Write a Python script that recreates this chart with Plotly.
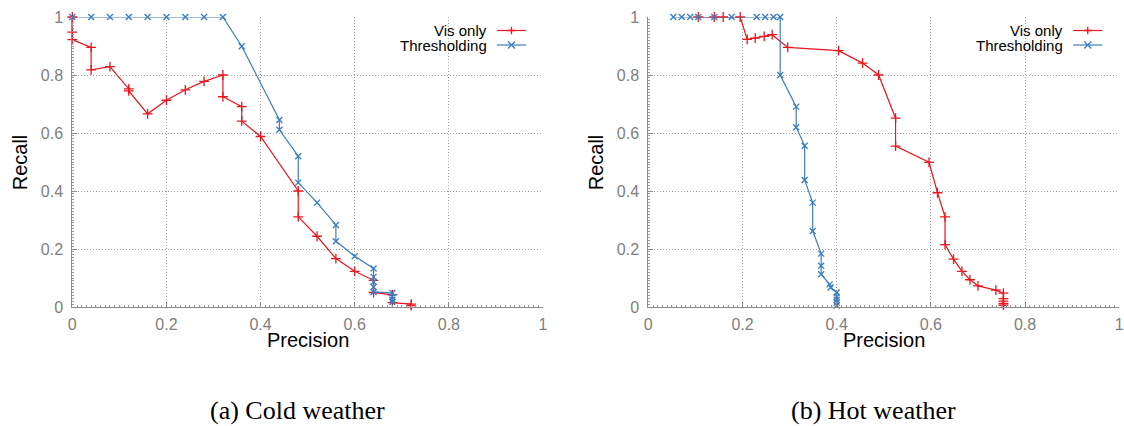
import plotly.graph_objects as go

# ---------------- data ----------------
cold_vis_x = [0, 0, 0, 0.04, 0.04, 0.08, 0.12, 0.12, 0.16, 0.2, 0.24, 0.28, 0.32, 0.32,
              0.36, 0.36, 0.4, 0.48, 0.48, 0.52, 0.56, 0.6, 0.64, 0.64, 0.68, 0.68, 0.72, 0.72]
cold_vis_y = [1.0, 0.948, 0.922, 0.895, 0.818, 0.829, 0.752, 0.745, 0.666, 0.713, 0.749, 0.778, 0.8, 0.725,
              0.691, 0.641, 0.588, 0.4, 0.311, 0.244, 0.167, 0.123, 0.092, 0.05, 0.042, 0.015, 0.01, 0.005]

cold_thr_x = [0, 0.04, 0.08, 0.12, 0.16, 0.2, 0.24, 0.28, 0.32, 0.36, 0.44, 0.44, 0.48, 0.48,
              0.52, 0.56, 0.56, 0.6, 0.64, 0.64, 0.64, 0.64, 0.64, 0.68, 0.68, 0.68, 0.68]
cold_thr_y = [1, 1, 1, 1, 1, 1, 1, 1, 1, 0.899, 0.645, 0.611, 0.52, 0.429,
              0.36, 0.283, 0.227, 0.175, 0.133, 0.104, 0.087, 0.069, 0.052, 0.048, 0.035, 0.025, 0.017]

hot_vis_x = [0.106, 0.14, 0.159, 0.195, 0.21, 0.227, 0.246, 0.263, 0.296, 0.404, 0.455, 0.489,
             0.525, 0.525, 0.596, 0.614, 0.63, 0.63, 0.648, 0.666, 0.683, 0.70, 0.738,
             0.754, 0.754, 0.754, 0.754, 0.754]
hot_vis_y = [1, 1, 1, 1, 0.923, 0.927, 0.933, 0.939, 0.895, 0.884, 0.841, 0.8,
             0.651, 0.555, 0.499, 0.394, 0.311, 0.215, 0.165, 0.123, 0.094, 0.073, 0.058,
             0.048, 0.029, 0.02, 0.012, 0.006]

hot_thr_x = [0.053, 0.071, 0.089, 0.106, 0.14, 0.177, 0.23, 0.248, 0.266, 0.28, 0.28,
             0.314, 0.314, 0.332, 0.332, 0.349, 0.349, 0.367, 0.367, 0.367, 0.385, 0.387,
             0.4, 0.4, 0.4, 0.4, 0.4]
hot_thr_y = [1, 1, 1, 1, 1, 1, 1, 1, 1, 1, 0.8,
             0.691, 0.62, 0.556, 0.438, 0.36, 0.262, 0.184, 0.142, 0.113, 0.078, 0.067,
             0.05, 0.035, 0.025, 0.015, 0.005]

series_names = ["Vis only", "Thresholding"]
captions = ["(a) Cold weather", "(b) Hot weather"]
tick_vals = [0, 0.2, 0.4, 0.6, 0.8, 1]
tick_text = ["0", "0.2", "0.4", "0.6", "0.8", "1"]

RED = "#e8161f"
BLUE = "#3a7dbf"
GRAY = "#8a8a8a"
SANS = "Liberation Sans, Arial, sans-serif"

W, H = 1124, 426
# plot areas in pixels
left_px = [(72.3, 543.0), (648.3, 1119.3)]
top_px, bottom_px = 17.0, 307.0

fig = go.Figure()

panels = [
    (cold_vis_x, cold_vis_y, cold_thr_x, cold_thr_y),
    (hot_vis_x, hot_vis_y, hot_thr_x, hot_thr_y),
]

for i, (vx, vy, tx, ty) in enumerate(panels):
    xa = "x" if i == 0 else "x2"
    ya = "y" if i == 0 else "y2"
    fig.add_trace(go.Scatter(
        x=vx, y=vy, mode="lines+markers", name=series_names[0], xaxis=xa, yaxis=ya,
        line=dict(color=RED, width=1.2),
        marker=dict(symbol="cross-thin", size=7, line=dict(color=RED, width=1.3)),
        showlegend=False, cliponaxis=False))
    fig.add_trace(go.Scatter(
        x=tx, y=ty, mode="lines+markers", name=series_names[1], xaxis=xa, yaxis=ya,
        line=dict(color=BLUE, width=1.2),
        marker=dict(symbol="x-thin", size=6, line=dict(color=BLUE, width=1.3)),
        showlegend=False, cliponaxis=False))

def axis_common():
    return dict(
        range=[0, 1], tickvals=tick_vals, ticktext=tick_text,
        showgrid=True, gridcolor="#a0a0a0", griddash="1px,2px", gridwidth=1,
        zeroline=False, showline=True, linecolor=GRAY, linewidth=1,
        ticks="inside", ticklen=5, tickcolor=GRAY, tickwidth=1,
        tickfont=dict(family=SANS, size=16, color="#808080"),
        minor=dict(ticks="inside", ticklen=2, dtick=0.01, tickcolor="#9a9a9a", showgrid=False),
        automargin=False, fixedrange=True,
    )

y_dom = [1 - bottom_px / H, 1 - top_px / H]
layout = dict(
    width=W, height=H, margin=dict(l=0, r=0, t=0, b=0),
    paper_bgcolor="white", plot_bgcolor="white", showlegend=False,
)
for i in range(2):
    sx = "" if i == 0 else "2"
    xd = [left_px[i][0] / W, left_px[i][1] / W]
    xax = axis_common()
    xax.update(domain=xd, anchor="y" + sx, ticklabelstandoff=3)
    yax = axis_common()
    yax.update(domain=y_dom, anchor="x" + sx, ticklabelstandoff=5)
    layout["xaxis" + sx] = xax
    layout["yaxis" + sx] = yax

fig.update_layout(**layout)

annotations = []
shapes = []
for i in range(2):
    sx = "" if i == 0 else "2"
    x0, x1 = left_px[i]
    # axis titles
    annotations.append(dict(
        text="Recall", x=(x0 - 52) / W, y=1 - 162 / H, xref="paper", yref="paper",
        textangle=-90, showarrow=False, font=dict(family=SANS, size=20, color="black"),
        xanchor="center", yanchor="middle"))
    annotations.append(dict(
        text="Precision", x=(x0 + x1) / 2 / W, y=1 - 340 / H, xref="paper", yref="paper",
        showarrow=False, font=dict(family=SANS, size=20, color="black"),
        xanchor="center", yanchor="middle"))
    # caption
    annotations.append(dict(
        text=captions[i], x=(x0 + x1) / 2 / W - 0.009, y=1 - 410 / H, xref="paper", yref="paper",
        showarrow=False, font=dict(family="Liberation Serif, serif", size=26, color="black"),
        xanchor="center", yanchor="middle"))
    # legend
    xr = "x" + sx + " domain"
    yr = "y" + sx + " domain"
    span = bottom_px - top_px
    leg_y = [1 - 13.5 / span, 1 - 28.0 / span]
    for j, (name, col, yy) in enumerate([(series_names[0], RED, leg_y[0]), (series_names[1], BLUE, leg_y[1])]):
        annotations.append(dict(
            text=name, x=0.883, y=yy, xref=xr, yref=yr, showarrow=False,
            font=dict(family=SANS, size=15, color="black"), xanchor="right", yanchor="middle",
            borderpad=0))
        shapes.append(dict(type="line", xref=xr, yref=yr, x0=0.902, x1=0.964, y0=yy, y1=yy,
                           line=dict(color=col, width=1.2)))
        cx = 0.933
        dx = 3.5 / (x1 - x0)
        dy = 3.5 / span
        if j == 0:
            path = f"M {cx - dx*1.1} {yy} L {cx + dx*1.1} {yy} M {cx} {yy - dy*1.1} L {cx} {yy + dy*1.1}"
        else:
            path = f"M {cx - dx} {yy - dy} L {cx + dx} {yy + dy} M {cx - dx} {yy + dy} L {cx + dx} {yy - dy}"
        shapes.append(dict(type="path", xref=xr, yref=yr, path=path, line=dict(color=col, width=1.3)))

fig.update_layout(annotations=annotations, shapes=shapes)
fig.write_html("out.html")
